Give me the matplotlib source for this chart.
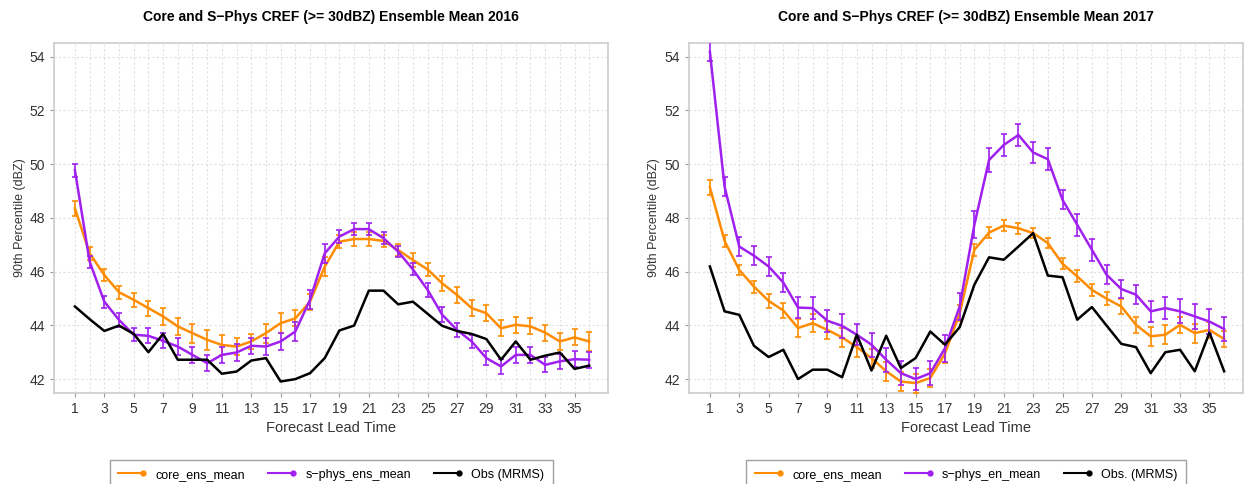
import matplotlib
matplotlib.use("Agg")
import matplotlib.pyplot as plt
from matplotlib.lines import Line2D
from matplotlib.legend_handler import HandlerBase

plt.rcParams["font.family"] = ["Liberation Sans", "DejaVu Sans"]

lead = list(range(1, 37))

# 2016
core_2016 = [48.35, 46.68, 45.87, 45.23, 44.95, 44.64, 44.33, 43.96, 43.71, 43.46,
             43.27, 43.21, 43.40, 43.71, 44.08, 44.26, 44.88, 46.18, 47.11, 47.21,
             47.21, 47.14, 46.80, 46.43, 46.08, 45.56, 45.13, 44.64, 44.45, 43.89,
             44.02, 43.96, 43.73, 43.40, 43.55, 43.40]
sphys_2016 = [49.77, 46.37, 44.88, 44.20, 43.65, 43.61, 43.42, 43.21, 42.90, 42.59,
              42.90, 42.99, 43.24, 43.21, 43.40, 43.77, 44.95, 46.68, 47.30, 47.58,
              47.58, 47.24, 46.74, 46.08, 45.32, 44.39, 43.83, 43.40, 42.78, 42.47,
              42.90, 42.90, 42.53, 42.66, 42.74, 42.72]
obs_2016 = [44.70, 44.23, 43.79, 43.99, 43.68, 43.00, 43.68, 42.72, 42.72, 42.72,
            42.20, 42.28, 42.69, 42.78, 41.91, 42.00, 42.22, 42.78, 43.81, 43.99,
            45.29, 45.29, 44.78, 44.88, 44.43, 43.98, 43.79, 43.68, 43.49, 42.72,
            43.40, 42.72, 42.87, 42.99, 42.38, 42.50]
core_err_2016 = [0.28, 0.25, 0.22, 0.25, 0.25, 0.28, 0.3, 0.33, 0.35, 0.37,
                 0.38, 0.3, 0.28, 0.35, 0.38, 0.3, 0.3, 0.35, 0.25, 0.25,
                 0.25, 0.22, 0.22, 0.25, 0.25, 0.28, 0.3, 0.3, 0.3, 0.3,
                 0.3, 0.3, 0.3, 0.3, 0.3, 0.35]
sphys_err_2016 = [0.25, 0.22, 0.22, 0.25, 0.25, 0.28, 0.28, 0.3, 0.3, 0.3,
                  0.3, 0.3, 0.3, 0.3, 0.33, 0.35, 0.35, 0.35, 0.25, 0.22,
                  0.22, 0.22, 0.2, 0.22, 0.25, 0.28, 0.25, 0.25, 0.25, 0.28,
                  0.3, 0.3, 0.28, 0.28, 0.3, 0.3]

# 2017
core_2017 = [49.14, 47.14, 46.06, 45.44, 44.91, 44.55, 43.90, 44.08, 43.83, 43.55,
             43.19, 42.78, 42.29, 41.91, 41.85, 42.04, 42.95, 44.45, 46.81, 47.45,
             47.71, 47.61, 47.43, 47.06, 46.29, 45.82, 45.32, 44.99, 44.70, 44.02,
             43.59, 43.65, 44.02, 43.71, 43.83, 43.49]
sphys_2017 = [54.18, 49.16, 46.93, 46.59, 46.19, 45.59, 44.66, 44.64, 44.17, 43.98,
              43.65, 43.28, 42.72, 42.22, 42.00, 42.22, 43.15, 44.70, 47.74, 50.15,
              50.71, 51.08, 50.43, 50.18, 48.67, 47.74, 46.81, 45.88, 45.35, 45.14,
              44.52, 44.64, 44.52, 44.33, 44.14, 43.86]
obs_2017 = [46.19, 44.52, 44.39, 43.24, 42.82, 43.09, 42.00, 42.35, 42.35, 42.07,
            43.65, 42.32, 43.61, 42.41, 42.78, 43.77, 43.28, 43.93, 45.51, 46.53,
            46.44, 46.93, 47.43, 45.85, 45.79, 44.21, 44.68, 43.99, 43.31, 43.19,
            42.22, 43.00, 43.09, 42.29, 43.73, 42.29]
core_err_2017 = [0.28, 0.22, 0.2, 0.22, 0.25, 0.28, 0.33, 0.33, 0.33, 0.35,
                 0.35, 0.35, 0.35, 0.35, 0.35, 0.35, 0.35, 0.3, 0.22, 0.22,
                 0.2, 0.2, 0.2, 0.2, 0.2, 0.22, 0.22, 0.25, 0.28, 0.3,
                 0.35, 0.35, 0.3, 0.35, 0.3, 0.3]
sphys_err_2017 = [0.35, 0.35, 0.35, 0.35, 0.35, 0.35, 0.4, 0.4, 0.4, 0.45,
                  0.4, 0.45, 0.45, 0.45, 0.4, 0.45, 0.5, 0.5, 0.5, 0.45,
                  0.4, 0.4, 0.4, 0.4, 0.35, 0.4, 0.4, 0.35, 0.35, 0.35,
                  0.4, 0.4, 0.45, 0.45, 0.45, 0.45]

orange = "#FF8C00"
purple = "#A020F0"

panels = [
    ("Core and S\u2212Phys CREF (>= 30dBZ) Ensemble Mean 2016",
     core_2016, core_err_2016, sphys_2016, sphys_err_2016, obs_2016,
     ["core_ens_mean", "s\u2212phys_ens_mean", "Obs (MRMS)"]),
    ("Core and S\u2212Phys CREF (>= 30dBZ) Ensemble Mean 2017",
     core_2017, core_err_2017, sphys_2017, sphys_err_2017, obs_2017,
     ["core_ens_mean", "s\u2212phys_en_mean", "Obs. (MRMS)"]),
]


# legend key: a line with one dot at its right end
class EndDotHandler(HandlerBase):
    def create_artists(self, legend, orig_handle, xdescent, ydescent,
                       width, height, fontsize, trans):
        y = height / 2 - ydescent
        c = orig_handle.get_color()
        line = Line2D([-xdescent, width - xdescent], [y, y], color=c, lw=1.5)
        dot = Line2D([width - xdescent], [y], color=c, marker="o", ms=3.5, ls="none")
        line.set_transform(trans)
        dot.set_transform(trans)
        return [line, dot]


fig = plt.figure(figsize=(12.44, 4.84), dpi=100)
lefts = [0.0437, 0.5541]

for i, (title, core, core_err, sphys, sphys_err, obs, labels) in enumerate(panels):
    ax = fig.add_axes([lefts[i], 0.189, 0.4453, 0.722])
    ax.errorbar(lead, core, yerr=core_err, color=orange, lw=1.8, capsize=2.5,
                capthick=1.2, elinewidth=1.2, zorder=3)
    ax.errorbar(lead, sphys, yerr=sphys_err, color=purple, lw=1.8, capsize=2.5,
                capthick=1.2, elinewidth=1.2, zorder=4)
    ax.plot(lead, obs, color="black", lw=1.8, zorder=5)

    ax.set_xlim(-0.4, 37.3)
    ax.set_ylim(41.5, 54.5)
    ax.set_xticks(range(1, 37, 2))
    ax.set_xticks(range(1, 37), minor=True)
    ax.set_yticks(range(42, 55, 2))
    ax.grid(True, which="both", axis="x", color="#e0e0e0", ls=(0, (2, 2)), lw=0.8)
    ax.grid(True, which="major", axis="y", color="#e0e0e0", ls=(0, (2, 2)), lw=0.8)
    ax.set_axisbelow(True)
    ax.tick_params(axis="both", which="both", length=3, color="#999999",
                   labelsize=10, labelcolor="#333333")
    ax.tick_params(axis="x", which="minor", length=0)
    for s in ax.spines.values():
        s.set_color("#cccccc")
        s.set_linewidth(1.2)

    ax.set_title(title, fontsize=10, fontweight="bold", pad=16)
    ax.set_xlabel("Forecast Lead Time", fontsize=10.5, color="#333333", labelpad=4)
    ax.set_ylabel("90th Percentile (dBZ)", fontsize=9, color="#333333", labelpad=3)

    handles = [Line2D([], [], color=orange), Line2D([], [], color=purple),
               Line2D([], [], color="black")]
    leg = ax.legend(handles, labels, loc="upper center", bbox_to_anchor=(0.5, -0.193),
                    borderaxespad=0, ncol=3, fontsize=9, frameon=True, fancybox=False,
                    handlelength=2.0, handletextpad=1.0, columnspacing=1.8,
                    borderpad=0.7, handler_map={Line2D: EndDotHandler()})
    leg.get_frame().set_edgecolor("#888888")
    leg.get_frame().set_linewidth(1.0)

fig.savefig("out.png", dpi=100)
